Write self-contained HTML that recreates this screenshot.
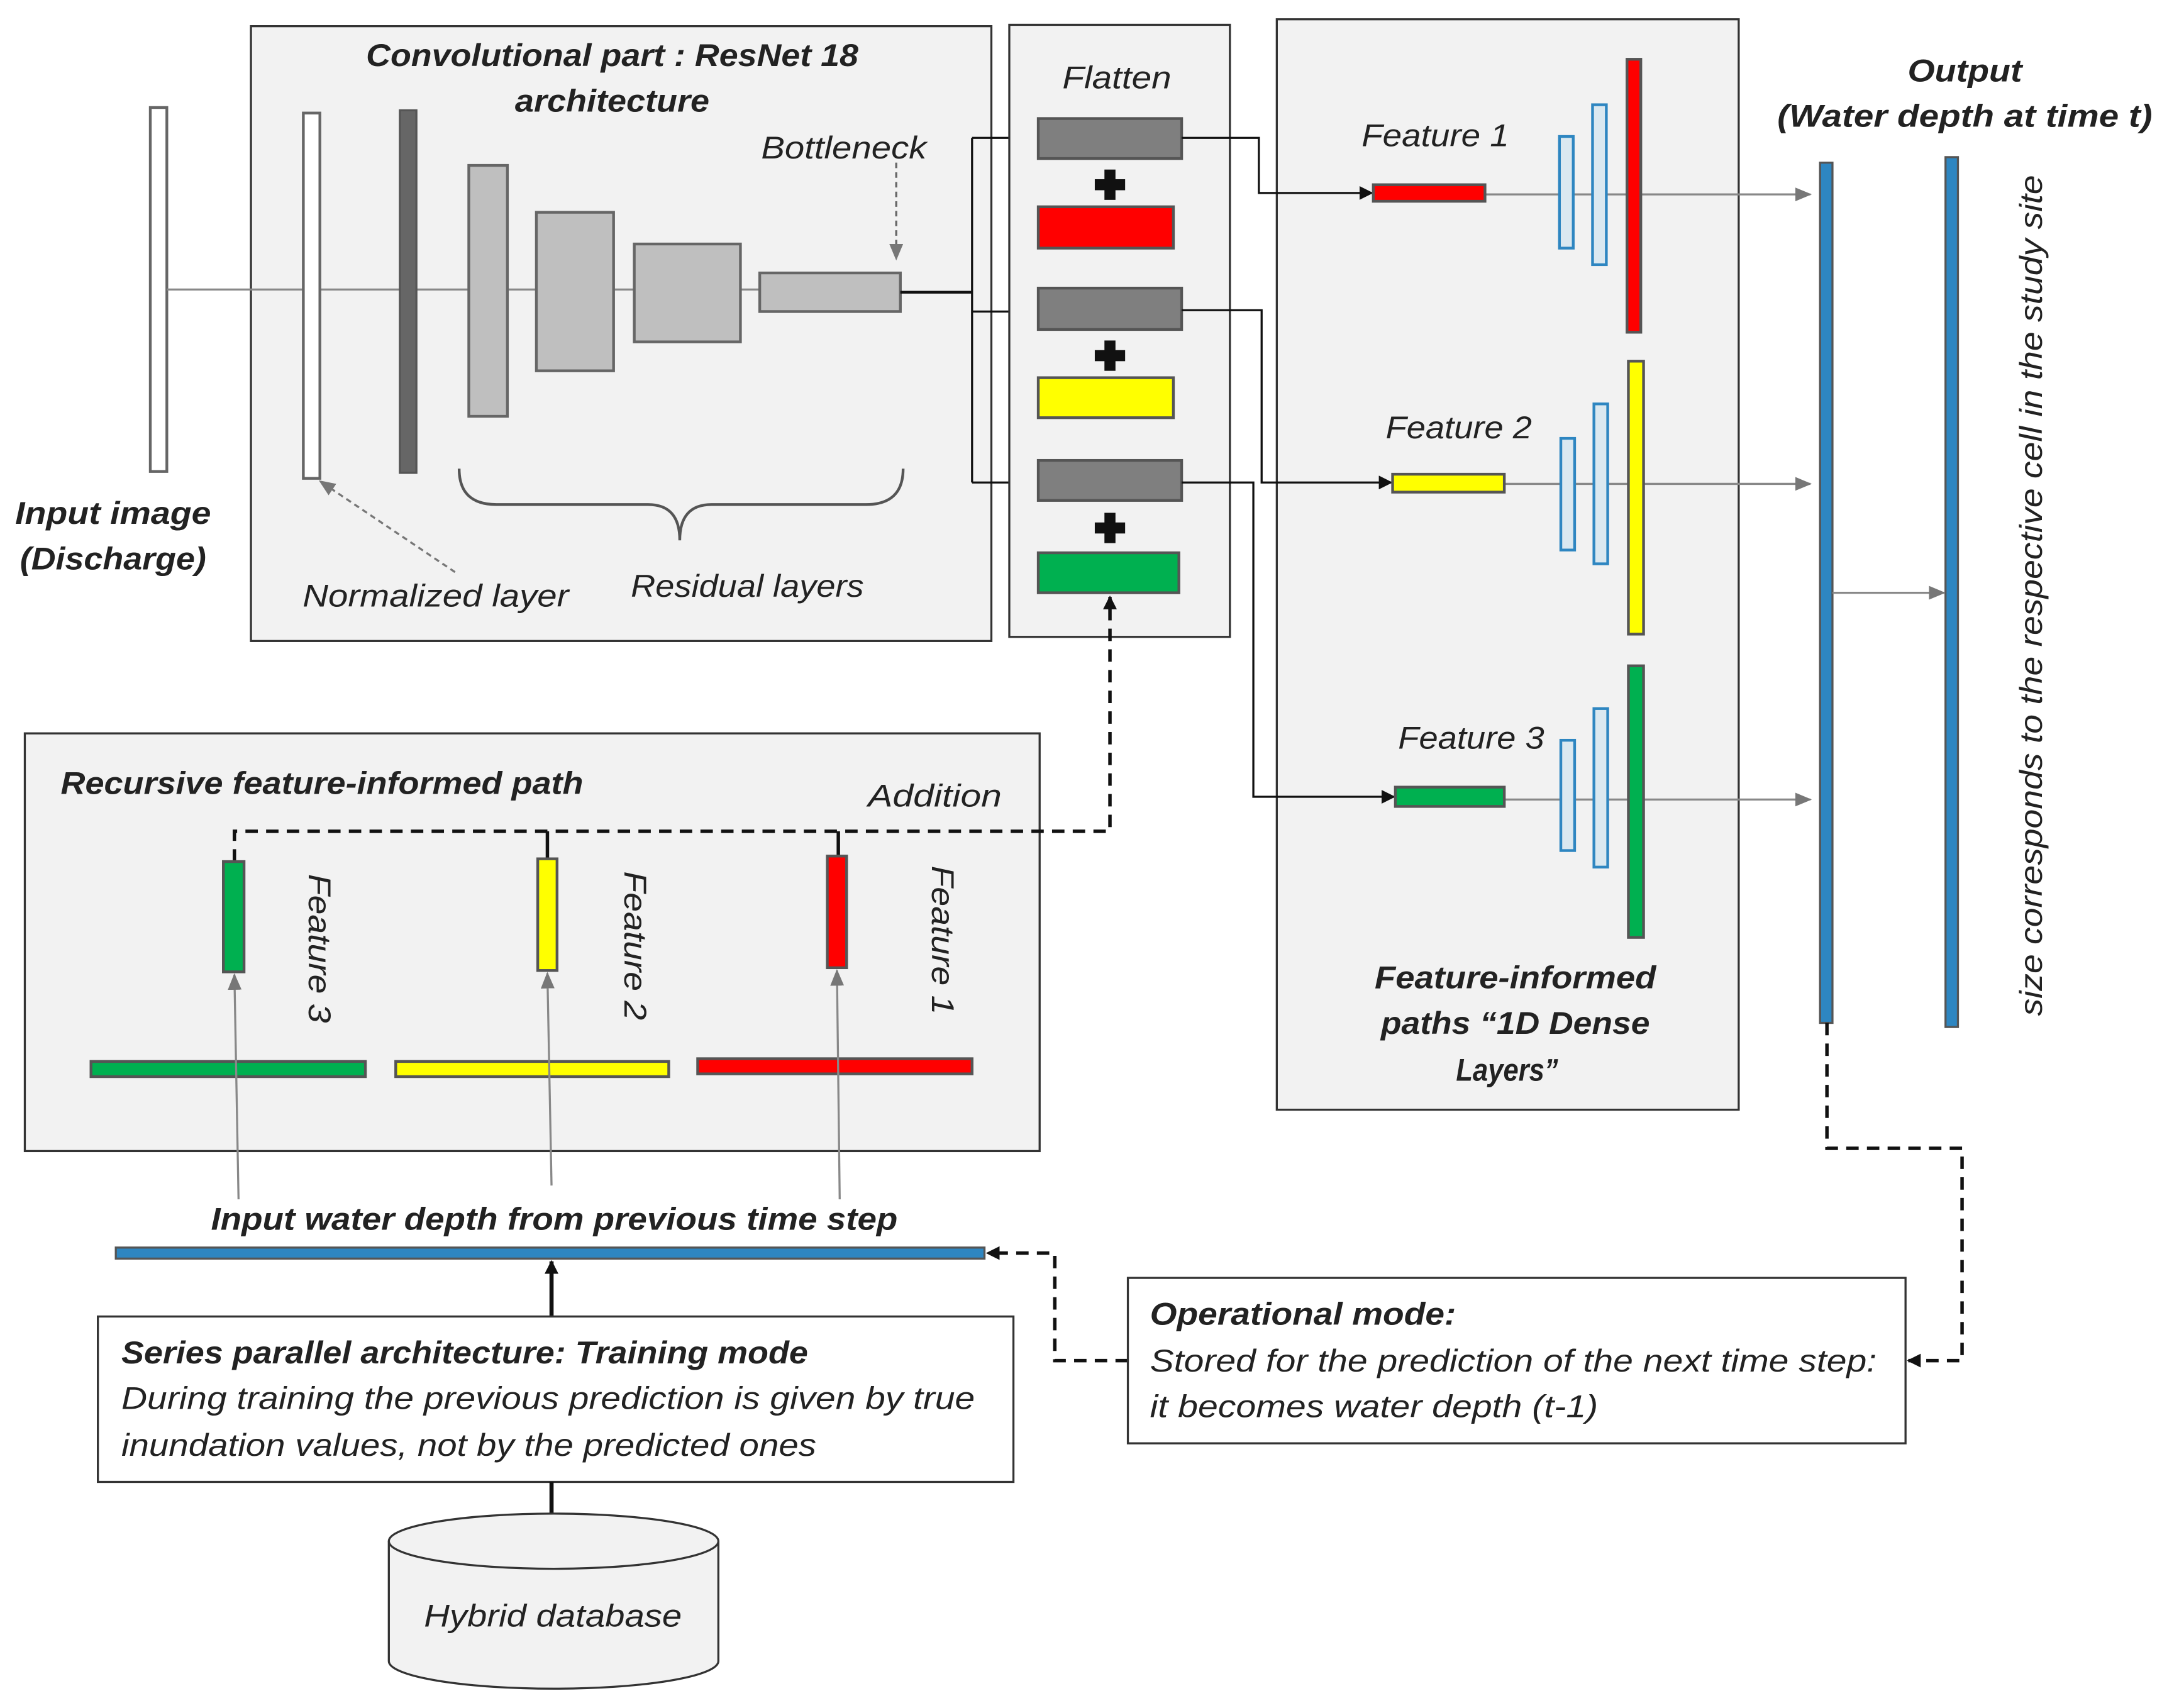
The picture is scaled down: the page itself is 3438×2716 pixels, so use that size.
<!DOCTYPE html>
<html><head><meta charset="utf-8">
<style>
html,body{margin:0;padding:0;background:#fff;}
svg{display:block;}
text{font-family:"Liberation Sans",sans-serif;font-style:italic;fill:#222;font-size:23px;}
.b{font-weight:bold;}
</style></head>
<body>
<svg width="3438" height="2716" viewBox="0 0 1568 1239" preserveAspectRatio="none" xmlns="http://www.w3.org/2000/svg">
<defs>
<marker id="ab" markerWidth="10" markerHeight="10" refX="9" refY="5" orient="auto" markerUnits="userSpaceOnUse"><path d="M0,0 L10,5 L0,10 z" fill="#111"/></marker>
<marker id="ag" markerWidth="12" markerHeight="10" refX="11" refY="5" orient="auto" markerUnits="userSpaceOnUse"><path d="M0,0 L12,5 L0,10 z" fill="#777"/></marker>
</defs>
<rect width="1568" height="1239" fill="#fff"/>

<rect x="109" y="78" width="12" height="264" fill="#fff" stroke="#666" stroke-width="2"/>
<text x="82" y="380" text-anchor="middle" class="b" textLength="142" lengthAdjust="spacingAndGlyphs">Input image</text>
<text x="82" y="413" text-anchor="middle" class="b" textLength="135" lengthAdjust="spacingAndGlyphs">(Discharge)</text>

<rect x="182" y="19" width="537" height="446" fill="#f2f2f2" stroke="#333" stroke-width="1.5"/>
<text x="444" y="48" text-anchor="middle" class="b" textLength="357" lengthAdjust="spacingAndGlyphs">Convolutional part : ResNet 18</text>
<text x="444" y="81" text-anchor="middle" class="b" textLength="141" lengthAdjust="spacingAndGlyphs">architecture</text>
<line x1="121" y1="210" x2="551" y2="210" stroke="#888" stroke-width="1.5"/>
<rect x="220" y="82" width="12" height="265" fill="#fff" stroke="#666" stroke-width="2"/>
<rect x="290" y="80" width="12" height="263" fill="#666" stroke="#555" stroke-width="1.5"/>
<rect x="340" y="120" width="28" height="182" fill="#bfbfbf" stroke="#666" stroke-width="2"/>
<rect x="389" y="154" width="56" height="115" fill="#bfbfbf" stroke="#666" stroke-width="2"/>
<rect x="460" y="177" width="77" height="71" fill="#bfbfbf" stroke="#666" stroke-width="2"/>
<rect x="551" y="198" width="102" height="28" fill="#bfbfbf" stroke="#666" stroke-width="2"/>
<text x="612" y="115" text-anchor="middle" textLength="120" lengthAdjust="spacingAndGlyphs">Bottleneck</text>
<line x1="650" y1="118" x2="650" y2="188" stroke="#666" stroke-width="1.5" stroke-dasharray="4,3" marker-end="url(#ag)"/>
<path d="M333,340 Q333,366 360,366 L470,366 Q493,366 493,392 Q493,366 516,366 L628,366 Q655,366 655,340" fill="none" stroke="#555" stroke-width="2"/>
<text x="542" y="433" text-anchor="middle" textLength="169" lengthAdjust="spacingAndGlyphs">Residual layers</text>
<text x="316" y="440" text-anchor="middle" textLength="193" lengthAdjust="spacingAndGlyphs">Normalized layer</text>
<line x1="330" y1="415" x2="232" y2="349" stroke="#777" stroke-width="1.5" stroke-dasharray="4,3" marker-end="url(#ag)"/>

<polyline points="653,212 705,212" fill="none" stroke="#111" stroke-width="2"/>
<line x1="705" y1="100" x2="705" y2="350" stroke="#111" stroke-width="1.5"/>
<line x1="705" y1="100" x2="752" y2="100" stroke="#111" stroke-width="1.5" marker-end="url(#ab)"/>
<line x1="705" y1="226" x2="752" y2="226" stroke="#111" stroke-width="1.5" marker-end="url(#ab)"/>
<line x1="705" y1="350" x2="752" y2="350" stroke="#111" stroke-width="1.5" marker-end="url(#ab)"/>

<rect x="732" y="18" width="160" height="444" fill="#f2f2f2" stroke="#333" stroke-width="1.5"/>
<text x="810" y="64" text-anchor="middle" textLength="79" lengthAdjust="spacingAndGlyphs">Flatten</text>
<rect x="753" y="86" width="104" height="29" fill="#7f7f7f" stroke="#555" stroke-width="2"/>
<rect x="753" y="209" width="104" height="30" fill="#7f7f7f" stroke="#555" stroke-width="2"/>
<rect x="753" y="334" width="104" height="29" fill="#7f7f7f" stroke="#555" stroke-width="2"/>
<g fill="#111">
<rect x="801" y="123" width="8" height="22"/><rect x="794" y="130" width="22" height="8"/>
<rect x="801" y="247" width="8" height="22"/><rect x="794" y="254" width="22" height="8"/>
<rect x="801" y="372" width="8" height="22"/><rect x="794" y="379" width="22" height="8"/>
</g>
<rect x="753" y="150" width="98" height="30" fill="#ff0000" stroke="#555" stroke-width="2"/>
<rect x="753" y="274" width="98" height="29" fill="#ffff00" stroke="#555" stroke-width="2"/>
<rect x="753" y="401" width="102" height="29" fill="#00b050" stroke="#555" stroke-width="2"/>

<rect x="926" y="14" width="335" height="791" fill="#f2f2f2" stroke="#333" stroke-width="1.5"/>
<polyline points="857,100 913,100 913,140 995,140" fill="none" stroke="#111" stroke-width="1.5" marker-end="url(#ab)"/>
<polyline points="857,225 915,225 915,350 1009,350" fill="none" stroke="#111" stroke-width="1.5" marker-end="url(#ab)"/>
<polyline points="857,350 909,350 909,578 1011,578" fill="none" stroke="#111" stroke-width="1.5" marker-end="url(#ab)"/>
<line x1="1077" y1="141" x2="1313" y2="141" stroke="#888" stroke-width="1.5" marker-end="url(#ag)"/>
<line x1="1091" y1="351" x2="1313" y2="351" stroke="#888" stroke-width="1.5" marker-end="url(#ag)"/>
<line x1="1091" y1="580" x2="1313" y2="580" stroke="#888" stroke-width="1.5" marker-end="url(#ag)"/>
<rect x="996" y="134" width="81" height="12" fill="#ff0000" stroke="#555" stroke-width="2"/>
<rect x="1010" y="344" width="81" height="13" fill="#ffff00" stroke="#555" stroke-width="2"/>
<rect x="1012" y="571" width="79" height="14" fill="#00b050" stroke="#555" stroke-width="2"/>
<text x="1041" y="106" text-anchor="middle" textLength="107" lengthAdjust="spacingAndGlyphs">Feature 1</text>
<text x="1058" y="318" text-anchor="middle" textLength="106" lengthAdjust="spacingAndGlyphs">Feature 2</text>
<text x="1067" y="543" text-anchor="middle" textLength="106" lengthAdjust="spacingAndGlyphs">Feature 3</text>
<g fill="#dae8f0" stroke="#2e86c1" stroke-width="2">
<rect x="1131" y="99" width="10" height="81"/><rect x="1155" y="76" width="10" height="116"/>
<rect x="1132" y="318" width="10" height="81"/><rect x="1156" y="293" width="10" height="116"/>
<rect x="1132" y="537" width="10" height="80"/><rect x="1156" y="514" width="10" height="115"/>
</g>
<rect x="1180" y="43" width="10" height="198" fill="#ff0000" stroke="#555" stroke-width="2"/>
<rect x="1181" y="262" width="11" height="198" fill="#ffff00" stroke="#555" stroke-width="2"/>
<rect x="1181" y="483" width="11" height="197" fill="#00b050" stroke="#555" stroke-width="2"/>
<text x="1099" y="717" text-anchor="middle" class="b" textLength="204" lengthAdjust="spacingAndGlyphs">Feature-informed</text>
<text x="1099" y="750" text-anchor="middle" class="b" textLength="195" lengthAdjust="spacingAndGlyphs">paths “1D Dense</text>
<text x="1093" y="784" text-anchor="middle" class="b" textLength="74" lengthAdjust="spacingAndGlyphs">Layers”</text>

<text x="1425" y="59" text-anchor="middle" class="b" textLength="83" lengthAdjust="spacingAndGlyphs">Output</text>
<text x="1425" y="92" text-anchor="middle" class="b" textLength="272" lengthAdjust="spacingAndGlyphs">(Water depth at time t)</text>
<rect x="1320" y="118" width="9" height="624" fill="#2e86c1" stroke="#555" stroke-width="1.5"/>
<rect x="1411" y="114" width="9" height="631" fill="#2e86c1" stroke="#555" stroke-width="1.5"/>
<line x1="1329" y1="430" x2="1410" y2="430" stroke="#888" stroke-width="1.5" marker-end="url(#ag)"/>
<text transform="translate(1481,432) rotate(-90)" text-anchor="middle" textLength="610" lengthAdjust="spacingAndGlyphs">size corresponds to the respective cell in the study site</text>
<polyline points="1325,742 1325,833 1423,833 1423,987 1384,987" fill="none" stroke="#111" stroke-width="2.5" stroke-dasharray="9,6" marker-end="url(#ab)"/>

<rect x="18" y="532" width="736" height="303" fill="#f2f2f2" stroke="#333" stroke-width="1.5"/>
<text x="44" y="576" class="b" textLength="379" lengthAdjust="spacingAndGlyphs">Recursive feature-informed path</text>
<text x="678" y="585" text-anchor="middle" textLength="97" lengthAdjust="spacingAndGlyphs">Addition</text>
<polyline points="170,625 170,603 805,603 805,433" fill="none" stroke="#111" stroke-width="2.5" stroke-dasharray="9,6" marker-end="url(#ab)"/>
<line x1="397" y1="603" x2="397" y2="623" stroke="#111" stroke-width="2.5"/>
<line x1="608" y1="603" x2="608" y2="621" stroke="#111" stroke-width="2.5"/>
<rect x="162" y="625" width="15" height="80" fill="#00b050" stroke="#555" stroke-width="2"/>
<rect x="390" y="623" width="14" height="81" fill="#ffff00" stroke="#555" stroke-width="2"/>
<rect x="600" y="621" width="14" height="81" fill="#ff0000" stroke="#555" stroke-width="2"/>
<text transform="translate(224,688) rotate(90)" text-anchor="middle" textLength="108" lengthAdjust="spacingAndGlyphs">Feature 3</text>
<text transform="translate(453,686) rotate(90)" text-anchor="middle" textLength="108" lengthAdjust="spacingAndGlyphs">Feature 2</text>
<text transform="translate(676,682) rotate(90)" text-anchor="middle" textLength="108" lengthAdjust="spacingAndGlyphs">Feature 1</text>
<rect x="66" y="770" width="199" height="11" fill="#00b050" stroke="#555" stroke-width="2"/>
<rect x="287" y="770" width="198" height="11" fill="#ffff00" stroke="#555" stroke-width="2"/>
<rect x="506" y="768" width="199" height="11" fill="#ff0000" stroke="#555" stroke-width="2"/>
<line x1="173" y1="870" x2="170" y2="707" stroke="#888" stroke-width="1.5" marker-end="url(#ag)"/>
<line x1="400" y1="860" x2="397" y2="706" stroke="#888" stroke-width="1.5" marker-end="url(#ag)"/>
<line x1="609" y1="870" x2="607" y2="704" stroke="#888" stroke-width="1.5" marker-end="url(#ag)"/>

<text x="402" y="892" text-anchor="middle" class="b" textLength="498" lengthAdjust="spacingAndGlyphs">Input water depth from previous time step</text>
<rect x="84" y="905" width="630" height="8" fill="#2e86c1" stroke="#555" stroke-width="1.5"/>
<line x1="400" y1="955" x2="400" y2="915" stroke="#111" stroke-width="3" marker-end="url(#ab)"/>
<polyline points="818,987 765,987 765,909 716,909" fill="none" stroke="#111" stroke-width="2.5" stroke-dasharray="9,6" marker-end="url(#ab)"/>

<rect x="71" y="955" width="664" height="120" fill="#fff" stroke="#333" stroke-width="1.5"/>
<text x="88" y="989" class="b" textLength="498" lengthAdjust="spacingAndGlyphs">Series parallel architecture: Training mode</text>
<text x="88" y="1022" textLength="619" lengthAdjust="spacingAndGlyphs">During training the previous prediction is given by true</text>
<text x="88" y="1056" textLength="504" lengthAdjust="spacingAndGlyphs">inundation values, not by the predicted ones</text>
<line x1="400" y1="1075" x2="400" y2="1098" stroke="#111" stroke-width="3"/>

<path d="M282,1118 L282,1205 A119.5,20 0 0 0 521,1205 L521,1118" fill="#f2f2f2" stroke="#333" stroke-width="1.5"/>
<ellipse cx="401.5" cy="1118" rx="119.5" ry="20" fill="#f2f2f2" stroke="#333" stroke-width="1.5"/>
<text x="401" y="1180" text-anchor="middle" textLength="187" lengthAdjust="spacingAndGlyphs">Hybrid database</text>

<rect x="818" y="927" width="564" height="120" fill="#fff" stroke="#333" stroke-width="1.5"/>
<text x="834" y="961" class="b" textLength="222" lengthAdjust="spacingAndGlyphs">Operational mode:</text>
<text x="834" y="995" textLength="527" lengthAdjust="spacingAndGlyphs">Stored for the prediction of the next time step:</text>
<text x="834" y="1028" textLength="325" lengthAdjust="spacingAndGlyphs">it becomes water depth (t-1)</text>
</svg>
</body></html>
